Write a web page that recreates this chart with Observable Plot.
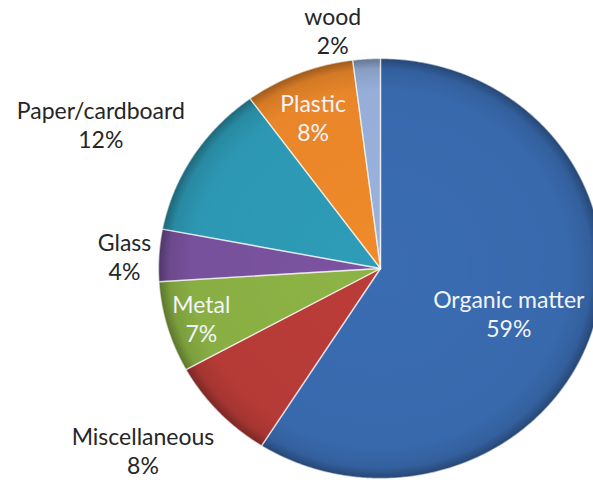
<!DOCTYPE html>
<html><head><meta charset="utf-8">
<script src="https://cdn.jsdelivr.net/npm/d3@7"></script>
<script src="https://cdn.jsdelivr.net/npm/@observablehq/plot@0.6"></script>
<style>
html,body{margin:0;padding:0;background:#fff;overflow:hidden}
#chart svg{display:block;overflow:hidden}
</style>
</head><body><div id="chart"></div>
<script>
// Data (clockwise from 12 o'clock)
const categories = ["Organic matter", "Miscellaneous", "Metal", "Glass", "Paper/cardboard", "Plastic", "wood"];
const values = [59, 8, 7, 4, 12, 8, 2];
const colors = ["#3a6cb2", "#bb3c38", "#8db446", "#7b53a0", "#2e9cb8", "#f08a2a", "#9ab3de"];
const insideLabels = ["Organic matter", "Plastic", "Metal"];

// Label layout: radius factor along slice mid-angle plus pixel nudge
const labelLayout = {
  "Organic matter": {k: 0.63, dx: -6, dy: 8},
  "Miscellaneous": {k: 1.27, dx: -32, dy: -1},
  "Metal": {k: 0.85, dx: 2, dy: 0},
  "Glass": {k: 1.16, dx: 1, dy: 3},
  "Paper/cardboard": {k: 1.3, dx: -36, dy: 2},
  "Plastic": {k: 0.8, dx: -2, dy: 5},
  "wood": {k: 1.13, dx: -32, dy: -1}
};

const arcs = d3.pie().sort(null)(values);

const slicePts = [];
arcs.forEach((a, i) => {
  const name = categories[i];
  slicePts.push({name, x: 0, y: 0});
  const n = Math.max(2, Math.ceil((a.endAngle - a.startAngle) / (Math.PI / 360)));
  for (let j = 0; j <= n; j++) {
    const t = a.startAngle + (a.endAngle - a.startAngle) * j / n;
    slicePts.push({name, x: Math.sin(t), y: Math.cos(t)});
  }
  slicePts.push({name, x: 0, y: 0});
});

const labels = arcs.map((a, i) => {
  const name = categories[i];
  const m = (a.startAngle + a.endAngle) / 2;
  const L = labelLayout[name];
  return {name, text: `${name}\n${values[i]}%`, x: L.k * Math.sin(m), y: L.k * Math.cos(m),
          dx: L.dx, dy: L.dy, inside: insideLabels.includes(name)};
});

const plot = Plot.plot({
  width: 593,
  height: 482,
  style: {fontFamily: "Lato, 'Open Sans', sans-serif", background: "#fff"},
  x: {domain: [-1, 1], range: [158, 602], axis: null},
  y: {domain: [-1, 1], range: [478, 58], axis: null},
  color: {domain: categories, range: colors},
  marks: [
    Plot.line(slicePts, {x: "x", y: "y", z: "name", fill: "name", stroke: "none"}),
    Plot.line(slicePts, {x: "x", y: "y", z: "name", fill: "url(#shade)", stroke: "#ffffff", strokeWidth: 1.4, strokeOpacity: 0.55, strokeLinejoin: "round"}),
    ...labels.map(l => Plot.text([l], {
      x: "x", y: "y", text: "text", dx: l.dx, dy: l.dy,
      fill: l.inside ? "#f2f4fa" : "#262626",
      fontSize: 23, lineHeight: 1.25, textAnchor: "middle", lineAnchor: "middle"
    }))
  ]
});

// gradient shading for the pie rim
const sx = plot.scale("x"), sy = plot.scale("y");
const cx = sx.apply(0), cy = sy.apply(0);
const rx = sx.apply(1) - cx, ry = cy - sy.apply(1);
const svg = d3.select(plot);
const defs = svg.insert("defs", ":first-child");
const g = defs.append("radialGradient").attr("id", "shade")
  .attr("gradientUnits", "userSpaceOnUse")
  .attr("cx", cx).attr("cy", cy).attr("r", ry)
  .attr("gradientTransform", `translate(${cx},${cy}) scale(${rx / ry},1) translate(${-cx},${-cy})`);
[[0, 0], [0.85, 0.03], [0.95, 0.12], [1, 0.35]].forEach(([o, a]) =>
  g.append("stop").attr("offset", o).attr("stop-color", "#000").attr("stop-opacity", a));

document.getElementById("chart").append(plot);
</script>
</body></html>
